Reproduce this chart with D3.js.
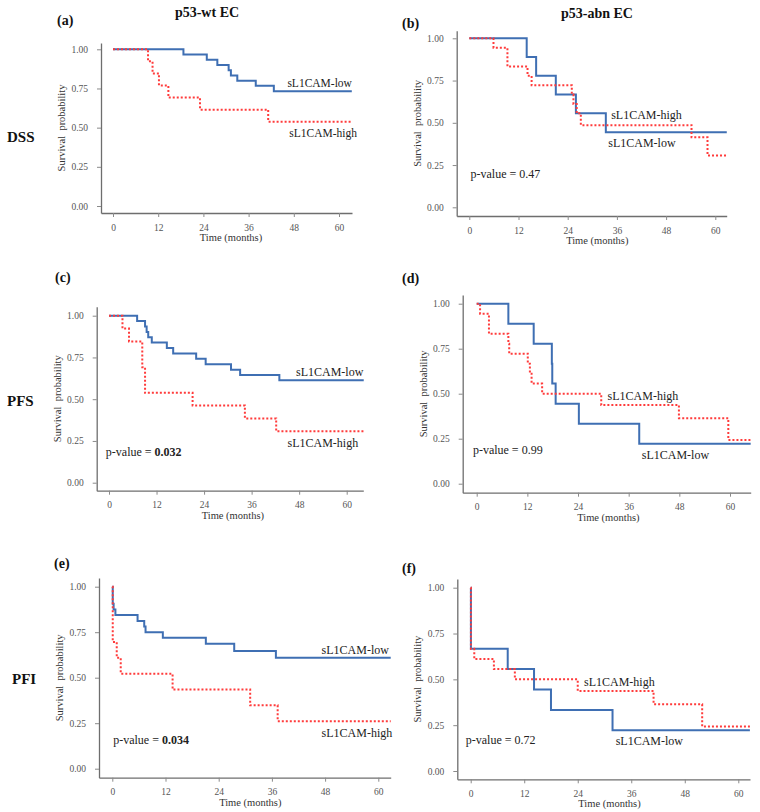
<!DOCTYPE html>
<html>
<head>
<meta charset="utf-8">
<script src="https://cdn.jsdelivr.net/npm/d3@7"></script>
<style>
  body { margin: 0; background: #fff; }
  svg { display: block; }
  text { font-family: "Liberation Serif", "Times New Roman", serif; }
</style>
</head>
<body>
<div id="chart"></div>
<script>
// axis ticks
const xTicks = [0, 12, 24, 36, 48, 60];
const yTicks = [0, 0.25, 0.5, 0.75, 1];

// (a) DSS, p53-wt EC
const aLowTime  = [0, 18.7, 24.9, 27.7, 30.7, 31.3, 33.0, 37.9, 42.7, 63.4];
const aLowSurv  = [1, 0.967, 0.933, 0.900, 0.867, 0.833, 0.800, 0.767, 0.733, 0.733];
const aHighTime = [0, 9.3, 10.5, 12.2, 14.7, 23.1, 41.2, 63.4];
const aHighSurv = [1, 0.923, 0.846, 0.769, 0.692, 0.615, 0.538, 0.538];

// (b) DSS, p53-abn EC
const bLowTime  = [0, 14.0, 16.3, 21.1, 26.0, 33.3, 62.8];
const bLowSurv  = [1, 0.889, 0.778, 0.667, 0.556, 0.444, 0.444];
const bHighTime = [0, 5.9, 9.3, 14.2, 15.2, 25.0, 25.4, 26.2, 27.2, 54.2, 58.1, 62.8];
const bHighSurv = [1, 0.944, 0.833, 0.778, 0.722, 0.667, 0.611, 0.556, 0.486, 0.414, 0.306, 0.306];

// (c) PFS, p53-wt EC
const cLowTime  = [0, 7.1, 9.1, 9.5, 9.9, 10.8, 14.6, 16.2, 22.0, 24.4, 30.8, 33.1, 43.0, 64.3];
const cLowSurv  = [1, 0.968, 0.935, 0.903, 0.871, 0.839, 0.806, 0.774, 0.742, 0.710, 0.677, 0.645, 0.613, 0.613];
const cHighTime = [0, 3.4, 5.05, 8.4, 9.1, 21.1, 34.3, 42.2, 64.3];
const cHighSurv = [1, 0.923, 0.846, 0.692, 0.538, 0.462, 0.385, 0.308, 0.308];

// (d) PFS, p53-abn EC
const dLowTime  = [0, 7.5, 13.5, 17.8, 17.9, 18.7, 24.2, 38.5, 64.9];
const dLowSurv  = [1, 0.889, 0.778, 0.667, 0.556, 0.444, 0.333, 0.222, 0.222];
const dHighTime = [0, 0.8, 2.9, 7.5, 7.7, 12.1, 12.6, 13.0, 15.5, 29.5, 47.9, 59.6, 64.9];
const dHighSurv = [1, 0.944, 0.833, 0.778, 0.722, 0.667, 0.611, 0.556, 0.500, 0.437, 0.364, 0.243, 0.243];

// (e) PFI, p53-wt EC
const eLowTime  = [0, 0.1, 0.3, 0.7, 5.7, 7.2, 7.5, 11.4, 21.1, 27.5, 36.9, 62.8];
const eLowSurv  = [1, 0.906, 0.875, 0.844, 0.812, 0.781, 0.750, 0.719, 0.687, 0.647, 0.610, 0.610];
const eHighTime = [0, 0.1, 1.0, 1.9, 13.6, 31.1, 37.3, 62.8];
const eHighSurv = [1, 0.696, 0.609, 0.522, 0.435, 0.348, 0.261, 0.261];

// (f) PFI, p53-abn EC
const fLowTime  = [0, 0.05, 8.3, 14.2, 18.0, 31.8, 62.6];
const fLowSurv  = [1, 0.667, 0.556, 0.444, 0.333, 0.222, 0.222];
const fHighTime = [0, 0.05, 0.8, 5.2, 9.9, 24.0, 41.0, 51.9, 62.6];
const fHighSurv = [1, 0.667, 0.611, 0.556, 0.500, 0.437, 0.364, 0.243, 0.243];

const pValues = ["0.47", "0.032", "0.99", "0.034", "0.72"];

const blue = "#3f6fb3";
const red = "#ff3b3b";

const width = 760, height = 812;

const svg = d3.select("#chart")
    .append("svg")
    .attr("width", width)
    .attr("height", height);

const zip = (t, s) => t.map((d, i) => [d, s[i]]);

// panel boxes (pixels) + label spots (data units)
const panels = [
    { tag: "(a)", tagX: 57, tagY: 20, left: 101, x0: 113, x60: 339, right: 352, top: 43, y1: 49.3, y0: 206, bottom: 213,
      low: zip(aLowTime, aLowSurv), high: zip(aHighTime, aHighSurv), labSize: 11.5,
      lowLab: [46.3, 0.785, "start"], highLab: [64.8, 0.466, "end"], p: null },
    { tag: "(b)", tagX: 402, tagY: 23, left: 456.7, x0: 469.3, x60: 715.3, right: 726.7, top: 30.7, y1: 38.3, y0: 207.3, bottom: 216,
      low: zip(bLowTime, bLowSurv), high: zip(bHighTime, bHighSurv),
      lowLab: [33.9, 0.382, "start"], highLab: [34.6, 0.546, "start"], p: [0.3, 0.197, pValues[0], false] },
    { tag: "(c)", tagX: 55, tagY: 277, left: 96.7, x0: 109, x60: 346.7, right: 363.3, top: 306.7, y1: 315.7, y0: 482.7, bottom: 490.7,
      low: zip(cLowTime, cLowSurv), high: zip(cHighTime, cHighSurv),
      lowLab: [64.2, 0.665, "end"], highLab: [62.9, 0.236, "end"], p: [-0.8, 0.186, pValues[1], true] },
    { tag: "(d)", tagX: 402, tagY: 278, left: 462.7, x0: 476.7, x60: 730, right: 750.7, top: 295, y1: 303.7, y0: 483.7, bottom: 492.7,
      low: zip(dLowTime, dLowSurv), high: zip(dHighTime, dHighSurv),
      lowLab: [39.1, 0.159, "start"], highLab: [31.0, 0.487, "start"], p: [-0.9, 0.191, pValues[2], false] },
    { tag: "(e)", tagX: 54, tagY: 563, left: 99, x0: 112.3, x60: 378.3, right: 390.7, top: 578, y1: 586.7, y0: 768.7, bottom: 777.7,
      low: zip(eLowTime, eLowSurv), high: zip(eHighTime, eHighSurv),
      lowLab: [47.2, 0.652, "start"], highLab: [47.2, 0.195, "start"], p: [0.2, 0.158, pValues[3], true] },
    { tag: "(f)", tagX: 402, tagY: 568, left: 457.3, x0: 470.7, x60: 738.3, right: 750, top: 579, y1: 587.7, y0: 771, bottom: 779.3,
      low: zip(fLowTime, fLowSurv), high: zip(fHighTime, fHighSurv),
      lowLab: [32.5, 0.164, "start"], highLab: [25.4, 0.487, "start"], p: [-1.1, 0.169, pValues[4], false] }
];

const drawPanel = p => {
    const x = d3.scaleLinear().domain([0, 60]).range([p.x0, p.x60]);
    x.domain([x.invert(p.left), x.invert(p.right)]).range([p.left, p.right]);
    const y = d3.scaleLinear().domain([0, 1]).range([p.y0, p.y1]);
    y.domain([y.invert(p.bottom), y.invert(p.top)]).range([p.bottom, p.top]);

    const g = svg.append("g");

    const xAxis = g.append("g")
        .attr("transform", `translate(0,${p.bottom})`)
        .call(d3.axisBottom(x).tickValues(xTicks).tickSize(4).tickSizeOuter(0).tickPadding(7));
    const yAxis = g.append("g")
        .attr("transform", `translate(${p.left},0)`)
        .call(d3.axisLeft(y).tickValues(yTicks).tickFormat(d3.format(".2f")).tickSize(4).tickSizeOuter(0).tickPadding(9));

    [xAxis, yAxis].forEach(a => {
        a.select(".domain").attr("stroke", "#6e6e6e").attr("stroke-width", 1.3);
        a.selectAll(".tick line").attr("stroke", "#8a8a8a");
        a.selectAll(".tick text")
            .attr("fill", "#555")
            .attr("font-size", 9.5)
            .attr("font-family", "Liberation Serif, serif");
    });

    // axis titles
    g.append("text")
        .attr("x", (p.x0 + p.x60) / 2 + 5)
        .attr("y", p.bottom + 28)
        .attr("text-anchor", "middle")
        .attr("font-size", 10.5)
        .attr("fill", "#333")
        .text("Time (months)");

    g.append("text")
        .attr("transform", `translate(${p.left - 36},${(p.top + p.bottom) / 2}) rotate(-90)`)
        .attr("text-anchor", "middle")
        .attr("font-size", 10.5)
        .attr("fill", "#333")
        .attr("xml:space", "preserve")
        .text("Survival  probability");

    const line = d3.line()
        .x(d => x(d[0]))
        .y(d => y(d[1]))
        .curve(d3.curveStepAfter);

    g.append("path")
        .datum(p.low)
        .attr("d", line)
        .attr("fill", "none")
        .attr("stroke", blue)
        .attr("stroke-width", 2);

    g.append("path")
        .datum(p.high)
        .attr("d", line)
        .attr("fill", "none")
        .attr("stroke", red)
        .attr("stroke-width", 2)
        .attr("stroke-dasharray", "2,2");

    // curve labels
    [[p.lowLab, "sL1CAM-low"], [p.highLab, "sL1CAM-high"]].forEach(([l, t]) => {
        g.append("text")
            .attr("x", x(l[0]))
            .attr("y", y(l[1]))
            .attr("dy", "0.35em")
            .attr("text-anchor", l[2])
            .attr("font-size", p.labSize || 12)
            .attr("fill", "#222")
            .text(t);
    });

    if (p.p) {
        const pt = g.append("text")
            .attr("x", x(p.p[0]))
            .attr("y", y(p.p[1]))
            .attr("dy", "0.35em")
            .attr("font-size", 12)
            .attr("fill", "#222");
        pt.append("tspan").text("p-value = ");
        pt.append("tspan").attr("font-weight", p.p[3] ? "bold" : "normal").text(p.p[2]);
    }

    g.append("text")
        .attr("x", p.tagX)
        .attr("y", p.tagY)
        .attr("dy", "0.35em")
        .attr("font-size", 14)
        .attr("font-weight", "bold")
        .attr("fill", "#111")
        .text(p.tag);
};

panels.forEach(drawPanel);

// column titles
svg.append("g")
    .selectAll("text")
    .data([["p53-wt EC", 207, 12], ["p53-abn EC", 597, 13]])
    .join("text")
    .attr("x", d => d[1])
    .attr("y", d => d[2])
    .attr("dy", "0.35em")
    .attr("text-anchor", "middle")
    .attr("font-size", 14)
    .attr("font-weight", "bold")
    .attr("fill", "#111")
    .text(d => d[0]);

// row titles
svg.append("g")
    .selectAll("text")
    .data([["DSS", 7, 137], ["PFS", 7, 401], ["PFI", 12, 679]])
    .join("text")
    .attr("x", d => d[1])
    .attr("y", d => d[2])
    .attr("dy", "0.35em")
    .attr("font-size", 15)
    .attr("font-weight", "bold")
    .attr("fill", "#111")
    .text(d => d[0]);
</script>
</body>
</html>
